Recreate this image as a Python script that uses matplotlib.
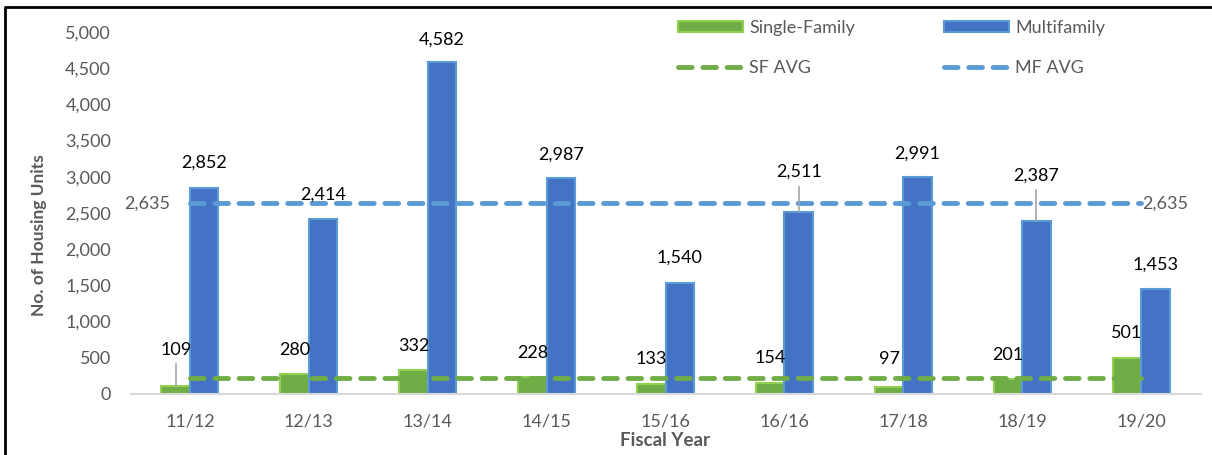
import matplotlib.pyplot as plt
import numpy as np
from matplotlib.patches import Patch
from matplotlib.lines import Line2D

plt.rcParams['font.family'] = ['Lato', 'DejaVu Sans']

years = ['11/12', '12/13', '13/14', '14/15', '15/16', '16/16', '17/18', '18/19', '19/20']
single_family = [109, 280, 332, 228, 133, 154, 97, 201, 501]
multifamily = [2852, 2414, 4582, 2987, 1540, 2511, 2991, 2387, 1453]

# where the data labels sit (moved by hand in the original)
sf_label_y = [610, 610, 665, 565, 485, 497, 485, 540, 845]
mf_label_y = [3190, 2750, 4890, 3300, 1880, 3066, 3315, 3011, 1782]
sf_leader = [True, False, False, False, False, False, False, False, False]
mf_leader = [False, False, False, False, False, True, False, True, False]

green, green_edge = '#70AD47', '#92D050'
blue, blue_edge = '#4472C4', '#5B9BD5'
gray = '#595959'

sf_avg = np.mean(single_family)
mf_avg = np.mean(multifamily)

fig = plt.figure(figsize=(12.12, 4.55), dpi=100)
ax = fig.add_axes([130.5 / 1212, 1 - 394 / 455, 1070 / 1212, 362 / 455])

x = np.arange(len(years))
w = 0.24
ax.bar(x - w / 2, single_family, w, color=green, edgecolor=green_edge, linewidth=1.5, zorder=2)
ax.bar(x + w / 2, multifamily, w, color=blue, edgecolor=blue_edge, linewidth=1.5, zorder=2)

ax.plot([x[0], x[-1]], [mf_avg, mf_avg], color=blue_edge, lw=3.5, dashes=(2.8, 2.2),
        dash_capstyle='round', zorder=3)
ax.plot([x[0], x[-1]], [sf_avg, sf_avg], color=green, lw=3.5, dashes=(2.8, 2.2),
        dash_capstyle='round', zorder=3)

ax.text(x[0] - 0.17, mf_avg, f'{mf_avg:,.0f}', ha='right', va='center', color=gray, fontsize=13)
ax.text(x[-1] + 0.01, mf_avg, f'{mf_avg:,.0f}', ha='left', va='center', color=gray, fontsize=13)

for i in range(len(years)):
    for val, ly, lead, off in [(single_family[i], sf_label_y[i], sf_leader[i], -w / 2),
                               (multifamily[i], mf_label_y[i], mf_leader[i], w / 2)]:
        ax.text(x[i] + off, ly, f'{val:,}', ha='center', va='center', color='black',
                fontsize=13, zorder=5)
        if lead:
            ax.plot([x[i] + off, x[i] + off], [val, ly - 200], color='#A5A5A5', lw=1.2, zorder=4)

ax.set_xlim(-0.5, len(years) - 0.5)
ax.set_ylim(0, 5000)
ax.set_yticks(range(0, 5001, 500))
ax.set_yticklabels([f'{v:,}' for v in range(0, 5001, 500)])
ax.set_xticks(x)
ax.set_xticklabels(years)
ax.tick_params(axis='y', length=0, pad=14, labelsize=13, labelcolor=gray)
ax.tick_params(axis='x', length=0, pad=14, labelsize=13, labelcolor=gray)
for s in ['top', 'right', 'left']:
    ax.spines[s].set_visible(False)
ax.spines['bottom'].set_color('#D9D9D9')
ax.spines['bottom'].set_linewidth(1.5)
ax.patch.set_visible(False)

fig.text(39 / 1212, 1 - 235 / 455, 'No. of Housing Units', rotation=90, ha='center', va='center',
         color=gray, fontsize=12.5, fontweight='bold')
fig.text(665 / 1212, 1 - 440 / 455, 'Fiscal Year', ha='center', va='center',
         color=gray, fontsize=13.5, fontweight='bold')

handles = [Patch(facecolor=green, edgecolor=green_edge, linewidth=1.5),
           Line2D([], [], color=green, lw=3.5, dashes=(2.8, 2.2), dash_capstyle='round'),
           Patch(facecolor=blue, edgecolor=blue_edge, linewidth=1.5),
           Line2D([], [], color=blue_edge, lw=3.5, dashes=(2.8, 2.2), dash_capstyle='round')]
labels = ['Single-Family', 'SF AVG', 'Multifamily', 'MF AVG']
leg = fig.legend(handles, labels, ncol=2, loc='upper left', bbox_to_anchor=(678 / 1212, 1 - 20 / 455),
                 frameon=False, fontsize=13, handlelength=3.6, handleheight=0.55,
                 handletextpad=0.35, columnspacing=4.9, labelspacing=1.35, borderpad=0,
                 borderaxespad=0)
for t in leg.get_texts():
    t.set_color(gray)

# outer frame
fig.add_artist(Line2D([5 / 1212, 5 / 1212, 1.01], [-0.01, 1 - 7 / 455, 1 - 7 / 455],
                      transform=fig.transFigure, color='black', lw=2))

fig.savefig('out.png', dpi=100)
